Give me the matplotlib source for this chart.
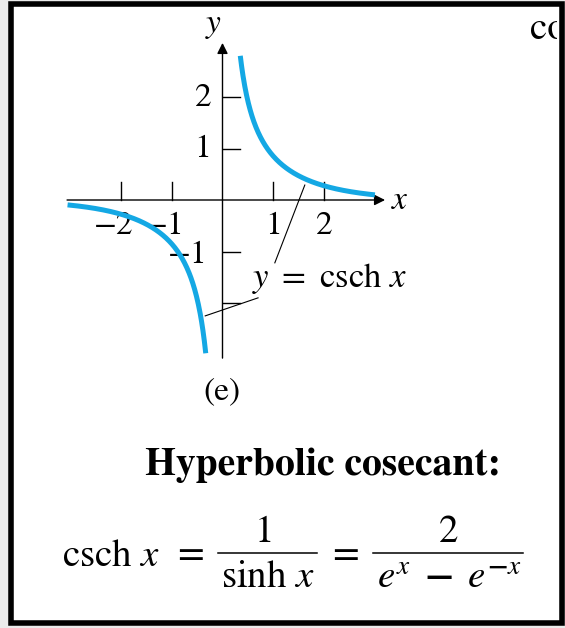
import numpy as np
import matplotlib
matplotlib.use("Agg")
import matplotlib.pyplot as plt
from matplotlib.patches import Rectangle
from matplotlib.transforms import Bbox

plt.rcParams["font.family"] = ["STIXGeneral", "DejaVu Serif"]
plt.rcParams["mathtext.fontset"] = "stix"

# ---- data ----
x_ticks = [-2, -1, 1, 2]
y_ticks = [-2, -1, 1, 2]
x_tick_labels = ["\u22122", "\u22121", "1", "2"]
y_tick_labels = {2: "2", 1: "1", -1: "\u22121"}
right_branch = (0.35, 3.0)     # x-range of the x > 0 branch
left_branch = (-3.05, -0.33)   # x-range of the x < 0 branch
curve_label = r"$y$ $=$ csch $x$"

W, H = 565, 628
fig = plt.figure(figsize=(W / 100, H / 100), dpi=100, facecolor="#ebebeb")

def px(x, y):
    return x / W, 1 - y / H

# white page behind everything, black frame on top
fig.patches.append(Rectangle((11 / W, 1 - 623 / H), (562 - 11) / W, (623 - 4) / H,
                             transform=fig.transFigure, facecolor="white",
                             edgecolor="none", zorder=-5))
fig.patches.append(Rectangle((11 / W, 1 - 623 / H), (562 - 11) / W, (623 - 4) / H,
                             transform=fig.transFigure, facecolor="none",
                             edgecolor="black", linewidth=4.0, zorder=10))

# ---- axes placed so that one unit is ~51 px ----
ox, oy, sx, sy = 222.5, 200.0, 50.8, 51.5
xlim = (-3.3, 3.7)
ylim = (-3.4, 3.6)
left_px = ox + sx * xlim[0]
right_px = ox + sx * xlim[1]
top_px = oy - sy * ylim[1]
bot_px = oy - sy * ylim[0]
ax = fig.add_axes([left_px / W, 1 - bot_px / H,
                   (right_px - left_px) / W, (bot_px - top_px) / H])
ax.set_xlim(*xlim)
ax.set_ylim(*ylim)
ax.axis("off")
ax.patch.set_alpha(0)

axis_kw = dict(color="black", lw=1.0)
# coordinate axes with arrowheads
ax.annotate("", xy=(3.2, 0), xytext=(-3.06, 0),
            arrowprops=dict(arrowstyle="-|>", lw=1.0, color="black",
                            mutation_scale=16, shrinkA=0, shrinkB=0))
ax.annotate("", xy=(0, 3.05), xytext=(0, -3.07),
            arrowprops=dict(arrowstyle="-|>", lw=1.0, color="black",
                            mutation_scale=16, shrinkA=0, shrinkB=0))

# tick marks
for t in x_ticks:
    ax.plot([t, t], [0, 0.35], **axis_kw)
for t in y_ticks:
    ax.plot([0, 0.34], [t, t], **axis_kw)

tick_fs = 24
# x tick labels: digit centred under its tick, minus sign hanging left
for t, lab in zip(x_ticks, x_tick_labels):
    ax.annotate(lab, xy=(t, -0.52), xycoords="data",
                ha="center", va="center", fontsize=tick_fs,
                xytext=(-7 if t < 0 else 0, 0), textcoords="offset pixels")
for t, lab in y_tick_labels.items():
    ax.annotate(lab, xy=(-0.22, t), xycoords="data", ha="right", va="center",
                fontsize=tick_fs, xytext=(-4 if t < 0 else 0, -1 if t > 0 else -4),
                textcoords="offset pixels")

ax.text(-0.17, 3.38, r"$y$", ha="center", va="center", fontsize=24)
ax.text(3.49, -0.02, r"$x$", ha="center", va="center", fontsize=24)

# csch curve
def csch(x):
    return 1.0 / np.sinh(x)

xr = np.linspace(*right_branch, 300)
xl = np.linspace(*left_branch, 300)
curve_color = "#14a8e4"
ax.plot(xr, csch(xr), color=curve_color, lw=3.6, solid_capstyle="butt", zorder=3)
ax.plot(xl, csch(xl), color=curve_color, lw=3.6, solid_capstyle="butt", zorder=3)

# label with leader lines to both branches
ax.text(0.58, -1.53, curve_label, ha="left", va="center", fontsize=25)
ax.plot([1.03, 1.62], [-1.22, 0.29], color="black", lw=0.8, zorder=2)
ax.plot([-0.34, 0.70], [-2.25, -1.90], color="black", lw=0.8, zorder=2)

# ---- text below the graph ----
fig.text(*px(222, 392), "(e)", ha="center", va="center", fontsize=24)
fig.text(*px(323, 465), "Hyperbolic cosecant:", ha="center", va="center",
         fontsize=28.5, fontweight="bold")

fs = 28
bar_y = 553
fig.text(*px(111, 557), r"csch $x$", ha="center", va="center", fontsize=fs)
fig.text(*px(190, 556), "=", ha="center", va="center", fontsize=fs)
fig.text(*px(264, 533), "1", ha="center", va="center", fontsize=fs)
fig.add_artist(plt.Line2D([218 / W, 317 / W], [1 - bar_y / H, 1 - bar_y / H],
                          color="black", lw=1.1))
fig.text(*px(268, 578), r"sinh $x$", ha="center", va="center", fontsize=fs)
fig.text(*px(345, 556), "=", ha="center", va="center", fontsize=fs)
fig.text(*px(449, 533), "2", ha="center", va="center", fontsize=fs)
fig.add_artist(plt.Line2D([373 / W, 523 / W], [1 - bar_y / H, 1 - bar_y / H],
                          color="black", lw=1.1))
fig.text(*px(449, 579), r"$e^{x}\ \,\mathbf{-}\ \,e^{\mathbf{-}x}$", ha="center",
         va="center", fontsize=fs)

# clipped running text at the right edge
co = fig.text(*px(530, 30), "co", ha="left", va="center", fontsize=28)
co.set_clip_box(Bbox.from_extents(0, 0, 557, H))
co.set_clip_on(True)

fig.savefig("out.png", dpi=100, facecolor=fig.get_facecolor())
